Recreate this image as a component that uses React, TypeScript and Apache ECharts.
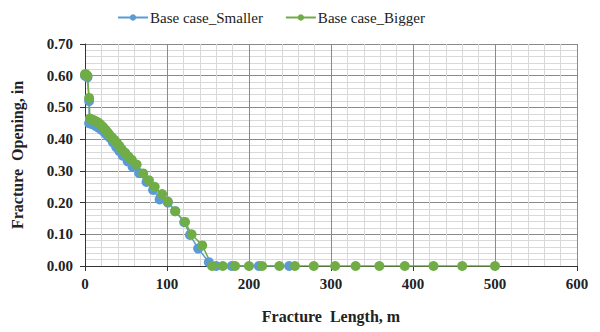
import React, { useEffect, useRef } from "react";
import * as echarts from "echarts";

// Fracture opening (in) along fracture length (m)
const smallerLength = [0, 2, 3, 5, 5, 8, 11, 14, 17, 20, 23, 26, 30, 34, 38, 42, 46, 52, 58, 66, 75, 83, 91, 101, 110, 121, 128, 138, 151, 160, 179, 212, 249];
const smallerOpening = [0.6, 0.6, 0.595, 0.52, 0.45, 0.448, 0.445, 0.44, 0.435, 0.43, 0.423, 0.415, 0.405, 0.39, 0.375, 0.362, 0.348, 0.33, 0.313, 0.293, 0.265, 0.24, 0.21, 0.2, 0.173, 0.138, 0.098, 0.055, 0.012, 0, 0, 0, 0];

const biggerLength = [0, 1, 2, 3, 5, 6, 8, 10, 12, 14, 16, 18, 20, 22, 24, 26, 28, 30, 33, 36, 39, 42, 45, 49, 53, 57, 63, 71, 78, 85, 94, 101, 110, 122, 130, 143, 155, 168, 183, 200, 216, 237, 256, 279, 305, 330, 359, 390, 425, 460, 500];
const biggerOpening = [0.605, 0.605, 0.6, 0.6, 0.53, 0.465, 0.462, 0.46, 0.458, 0.455, 0.452, 0.448, 0.443, 0.438, 0.432, 0.426, 0.42, 0.413, 0.405, 0.397, 0.388, 0.378, 0.367, 0.357, 0.345, 0.335, 0.32, 0.292, 0.27, 0.25, 0.227, 0.203, 0.173, 0.139, 0.1, 0.065, 0, 0, 0, 0, 0, 0, 0, 0, 0, 0, 0, 0, 0, 0, 0];

const seriesNames = ["Base case_Smaller", "Base case_Bigger"];
const seriesColors = ["#5B9BD5", "#70AD47"];

const serif = "'Liberation Serif', 'Times New Roman', serif";

function pairs(xs: number[], ys: number[]) {
  return xs.map((x, i) => [x, ys[i]]);
}

export default function App() {
  const ref = useRef<HTMLDivElement>(null);

  useEffect(() => {
    document.body.style.margin = "0";
    const chart = echarts.init(ref.current!, undefined, { renderer: "svg" });
    const makeSeries = (i: number, xs: number[], ys: number[]) => ({
      name: seriesNames[i],
      type: "line",
      data: pairs(xs, ys),
      symbol: "circle",
      symbolSize: 10,
      lineStyle: { color: seriesColors[i], width: 1.5 },
      itemStyle: { color: seriesColors[i] },
    });
    chart.setOption({
      animation: false,
      color: seriesColors,
      legend: {
        top: 5,
        left: 112,
        itemWidth: 30,
        itemHeight: 8,
        itemGap: 22,
        textStyle: { fontFamily: serif, fontSize: 15, color: "#222", padding: [0, 0, 0, -3] },
        data: seriesNames,
      },
      grid: { left: 85, right: 23, top: 44, bottom: 66, containLabel: false },
      xAxis: {
        type: "value",
        min: 0,
        max: 600,
        interval: 100,
        name: "Fracture  Length, m",
        nameLocation: "middle",
        nameGap: 42,
        nameTextStyle: { fontFamily: serif, fontSize: 16, fontWeight: "bold", color: "#222" },
        axisLine: { show: true, lineStyle: { color: "#333", width: 1 } },
        axisTick: { show: true, length: 5, lineStyle: { color: "#333" } },
        axisLabel: { fontFamily: serif, fontSize: 15, fontWeight: "bold", color: "#222", margin: 10 },
        splitLine: { show: true, lineStyle: { color: "#8a8a8a", width: 1 } },
        minorTick: { show: false, splitNumber: 5 },
        minorSplitLine: { show: true, lineStyle: { color: "#d9d9d9", width: 1 } },
      },
      yAxis: {
        type: "value",
        min: 0,
        max: 0.7,
        interval: 0.1,
        name: "Fracture  Opening, in",
        nameLocation: "middle",
        nameGap: 60,
        nameRotate: 90,
        nameTextStyle: { fontFamily: serif, fontSize: 16, fontWeight: "bold", color: "#222" },
        axisLine: { show: true, lineStyle: { color: "#333", width: 1 } },
        axisTick: { show: true, length: 5, lineStyle: { color: "#333" } },
        axisLabel: {
          fontFamily: serif,
          fontSize: 15,
          fontWeight: "bold",
          color: "#222",
          margin: 12,
          formatter: (v: number) => v.toFixed(2),
        },
        splitLine: { show: true, lineStyle: { color: "#8a8a8a", width: 1 } },
        minorTick: { show: false, splitNumber: 5 },
        minorSplitLine: { show: true, lineStyle: { color: "#d9d9d9", width: 1 } },
      },
      series: [
        makeSeries(0, smallerLength, smallerOpening),
        makeSeries(1, biggerLength, biggerOpening),
      ],
    });
    return () => chart.dispose();
  }, []);

  return <div ref={ref} style={{ width: 600, height: 332 }} />;
}
